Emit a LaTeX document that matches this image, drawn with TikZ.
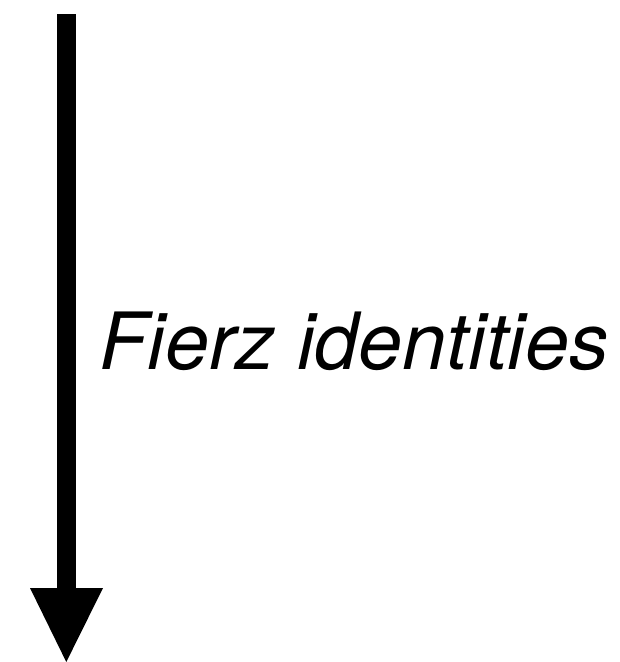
\documentclass[tikz,border=0pt]{standalone}
\usepackage{fontspec}
\setmainfont{TeX Gyre Heros}
\begin{document}
\begin{tikzpicture}[x=1pt,y=-1pt,
  shaft/.style={line width=19pt},
  head/.style={fill=black},
  label/.style={font=\itshape\fontsize{79}{95}\selectfont, inner sep=0pt, anchor=base west}]
  \useasboundingbox (0,0) rectangle (620,662);
  % vertical arrow
  \coordinate (start) at (66.5,14);
  \coordinate (neck) at (66.5,590);
  \coordinate (tip) at (66.3,662);
  \draw[shaft] (start) -- (neck);
  \fill[head] (30,588) -- (103,588) -- (tip) -- cycle;
  % label
  \node[label] (fierz) at (99.5,369) {Fierz identities};
\end{tikzpicture}
\end{document}
